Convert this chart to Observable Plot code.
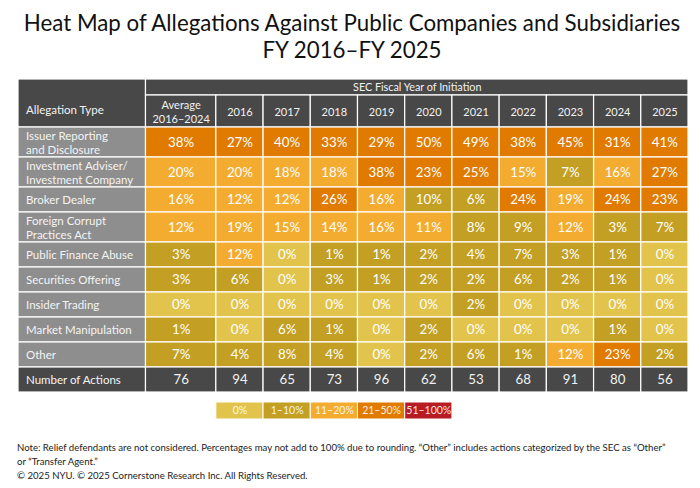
<!DOCTYPE html>
<html>
<head>
<meta charset="utf-8">
<script src="https://cdn.jsdelivr.net/npm/d3@7"></script>
<script src="https://cdn.jsdelivr.net/npm/@observablehq/plot@0.6"></script>
<style>
  html, body { margin: 0; padding: 0; background: #fff; }
  body { width: 700px; height: 488px; position: relative; overflow: hidden; font-family: Lato, "Open Sans", sans-serif; }
  #title { position: absolute; top: 9px; left: 0; width: 704px; text-align: center; font-size: 22.3px; line-height: 27px; color: #111; }
  #chart { position: absolute; top: 70px; left: 0; }
  #notes { position: absolute; top: 441px; left: 17px; width: 680px; font-size: 9.6px; line-height: 13.5px; color: #222; }
  #notes .copy { margin-top: 1px; }
</style>
</head>
<body>
<div id="title">Heat Map of Allegations Against Public Companies and Subsidiaries<br>FY 2016–FY 2025</div>
<div id="chart"></div>
<div id="notes">Note: Relief defendants are not considered. Percentages may not add to 100% due to rounding. “Other” includes actions categorized by the SEC as “Other”<br>or “Transfer Agent.”<div class="copy">© 2025 NYU. © 2025 Cornerstone Research Inc. All Rights Reserved.</div></div>
<script>
// ---------- data ----------
const allegations = [
  "Issuer Reporting\nand Disclosure",
  "Investment Adviser/\nInvestment Company",
  "Broker Dealer",
  "Foreign Corrupt\nPractices Act",
  "Public Finance Abuse",
  "Securities Offering",
  "Insider Trading",
  "Market Manipulation",
  "Other"
];
const columns = ["Average\n2016–2024", "2016", "2017", "2018", "2019", "2020", "2021", "2022", "2023", "2024", "2025"];
const issuerReporting   = [38, 27, 40, 33, 29, 50, 49, 38, 45, 31, 41];
const investmentAdviser = [20, 20, 18, 18, 38, 23, 25, 15, 7, 16, 27];
const brokerDealer      = [16, 12, 12, 26, 16, 10, 6, 24, 19, 24, 23];
const foreignCorrupt    = [12, 19, 15, 14, 16, 11, 8, 9, 12, 3, 7];
const publicFinance     = [3, 12, 0, 1, 1, 2, 4, 7, 3, 1, 0];
const securitiesOffering= [3, 6, 0, 3, 1, 2, 2, 6, 2, 1, 0];
const insiderTrading    = [0, 0, 0, 0, 0, 0, 2, 0, 0, 0, 0];
const marketManipulation= [1, 0, 6, 1, 0, 2, 0, 0, 0, 1, 0];
const other             = [7, 4, 8, 4, 0, 2, 6, 1, 12, 23, 2];
const numberOfActions   = [76, 94, 65, 73, 96, 62, 53, 68, 91, 80, 56];
const legendLabels = ["0%", "1–10%", "11–20%", "21–50%", "51–100%"];
const legendLower  = [0, 1, 11, 21, 51];
const thresholds   = [1, 11, 21, 51];

// ---------- styles & layout ----------
const palette = ["#E2C44C", "#C3A023", "#F4AC30", "#E07B00", "#B71C23"];
const dark = "#484848", gray = "#8E8E8E";
const seriesRows = [issuerReporting, investmentAdviser, brokerDealer, foreignCorrupt, publicFinance,
  securitiesOffering, insiderTrading, marketManipulation, other];

// column widths in "year column" units
const labelW = 2.7, avgW = 1.49, yearW = 1;
const colW = columns.map((c, i) => i === 0 ? avgW : yearW);
const colX = [];
{ let acc = labelW; colW.forEach(w => { colX.push([acc, acc + w]); acc += w; }); }
const xEnd = colX[colX.length - 1][1];
// row heights in "single row" units
const h1 = 0.64, h2 = 1.28;
const rowH = allegations.map(a => a.includes("\n") ? 1.2 : 1);
const rowY = [];
{ let acc = h1 + h2; rowH.forEach(h => { rowY.push([acc, acc + h]); acc += h; }); rowY.push([acc, acc + 1]); }
const numY = rowY[rowY.length - 1];
const legY = [numY[1] + 0.4, numY[1] + 1.08];

const cells = [];
seriesRows.forEach((vals, r) => vals.forEach((v, c) => cells.push({
  x1: colX[c][0], x2: colX[c][1], y1: rowY[r][0], y2: rowY[r][1], v, label: v + "%"
})));
const labelCells = allegations.map((a, r) => ({x1: 0, x2: labelW, y1: rowY[r][0], y2: rowY[r][1], label: a}));
labelCells.push({x1: 0, x2: labelW, y1: numY[0], y2: numY[1], label: "Number of Actions"});
const numCells = numberOfActions.map((n, c) => ({x1: colX[c][0], x2: colX[c][1], y1: numY[0], y2: numY[1], label: String(n)}));
const headCells = columns.map((c, i) => ({x1: colX[i][0], x2: colX[i][1], y1: h1, y2: h1 + h2, label: c}));
const topCells = [
  {x1: 0, x2: labelW, y1: 0, y2: h1 + h2, label: "Allegation Type"},
  {x1: labelW, x2: xEnd, y1: 0, y2: h1, label: "SEC Fiscal Year of Initiation"}
];
const legendCells = legendLabels.map((l, i) => ({x1: colX[i + 1][0], x2: colX[i + 1][1], y1: legY[0], y2: legY[1], v: legendLower[i], label: l}));

const mid = d => (d.x1 + d.x2) / 2;
const midY = d => (d.y1 + d.y2) / 2;

const chart = Plot.plot({
  width: 700,
  height: 360,
  margin: 0,
  x: {domain: [0, xEnd], range: [18, 688], axis: null},
  y: {domain: [0, 14], range: [9, 359], axis: null},
  color: {type: "threshold", domain: thresholds, range: palette},
  style: {fontFamily: "Lato, 'Open Sans', sans-serif", background: "white"},
  marks: [
    Plot.rect(topCells, {x1: "x1", x2: "x2", y1: "y1", y2: "y2", fill: dark, stroke: "#ffffff", strokeWidth: 1.2}),
    Plot.rect(headCells, {x1: "x1", x2: "x2", y1: "y1", y2: "y2", fill: dark, stroke: "#ffffff", strokeWidth: 1.2}),
    Plot.rect(labelCells, {x1: "x1", x2: "x2", y1: "y1", y2: "y2", fill: (d, i) => i === labelCells.length - 1 ? dark : gray, stroke: "#ffffff", strokeWidth: 1.2}),
    Plot.rect(cells, {x1: "x1", x2: "x2", y1: "y1", y2: "y2", fill: "v", stroke: "#ffffff", strokeWidth: 1.2}),
    Plot.rect(numCells, {x1: "x1", x2: "x2", y1: "y1", y2: "y2", fill: dark, stroke: "#ffffff", strokeWidth: 1.2}),
    Plot.rect(legendCells, {x1: "x1", x2: "x2", y1: "y1", y2: "y2", fill: "v", stroke: "#ffffff", strokeWidth: 1}),
    Plot.text([topCells[0]], {x: d => d.x1, y: midY, text: "label", textAnchor: "start", dx: 7.5, dy: 7, fill: "#f2f2f2", fontSize: 11.5}),
    Plot.text([topCells[1]], {x: mid, y: midY, text: "label", fill: "#f2f2f2", fontSize: 10.8}),
    Plot.text(headCells, {x: mid, y: midY, text: "label", fill: "#f2f2f2", fontSize: 11, lineHeight: 1.25}),
    Plot.text(labelCells, {x: d => d.x1, y: midY, text: "label", textAnchor: "start", dx: 7.5, fill: "#f4f4f4", fontSize: 11.5, lineHeight: 1.2}),
    Plot.text(cells, {x: mid, y: midY, text: "label", fill: "#ffffff", fontSize: 13.3}),
    Plot.text(numCells, {x: mid, y: midY, text: "label", fill: "#f2f2f2", fontSize: 13.3}),
    Plot.text(legendCells, {x: mid, y: midY, text: "label", fill: "#ffffff", fillOpacity: 0.9, fontSize: 10.5})
  ]
});
document.getElementById("chart").appendChild(chart);
</script>
</body>
</html>
